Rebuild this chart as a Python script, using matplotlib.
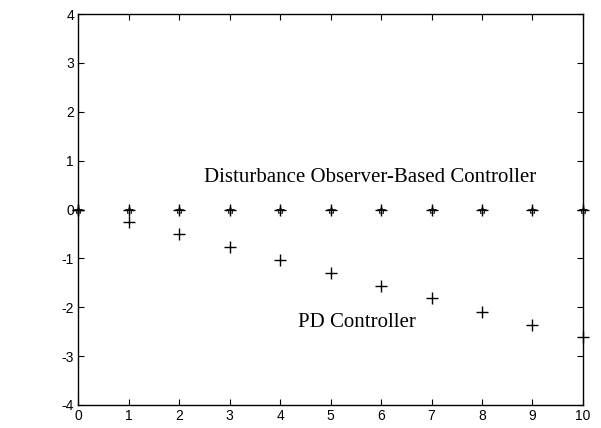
import matplotlib.pyplot as plt
import numpy as np

plt.rcParams['axes.unicode_minus'] = False
plt.rcParams['font.family'] = ['Liberation Sans', 'DejaVu Sans']

# sample instants and tracking error for the two controllers
k = [0, 1, 2, 3, 4, 5, 6, 7, 8, 9, 10]
err_dob = [0, 0, 0, 0, 0, 0, 0, 0, 0, 0, 0]
err_pd = [0, -0.26, -0.51, -0.77, -1.04, -1.30, -1.57, -1.82, -2.10, -2.36, -2.61]

x_ticks = [0, 1, 2, 3, 4, 5, 6, 7, 8, 9, 10]
y_ticks = [-4, -3, -2, -1, 0, 1, 2, 3, 4]

fig = plt.figure(figsize=(6.01, 4.28), dpi=100)
ax = fig.add_axes([0.130, 0.054, 0.840, 0.913])

ax.plot(k, err_pd, '+', color='k', markersize=9, markeredgewidth=1.0,
        clip_on=False)
ax.plot(k, err_dob, '*', color='k', markersize=6, markeredgewidth=0.6,
        markerfacecolor='none', clip_on=False)
ax.plot(k, err_dob, '+', color='k', markersize=8, markeredgewidth=1.0,
        clip_on=False)

ax.text(2.50, 0.56, 'Disturbance Observer-Based Controller',
        family='Liberation Serif', fontsize=15, va='baseline')
ax.text(4.36, -2.40, 'PD Controller',
        family='Liberation Serif', fontsize=15, va='baseline')

ax.set_xlim(0, 10)
ax.set_ylim(-4, 4)
ax.set_xticks(x_ticks)
ax.set_yticks(y_ticks)
ax.tick_params(direction='in', top=True, right=True, length=4,
               labelsize=10, pad=3)
for spine in ax.spines.values():
    spine.set_linewidth(1.0)

fig.savefig('out.png', dpi=100)
